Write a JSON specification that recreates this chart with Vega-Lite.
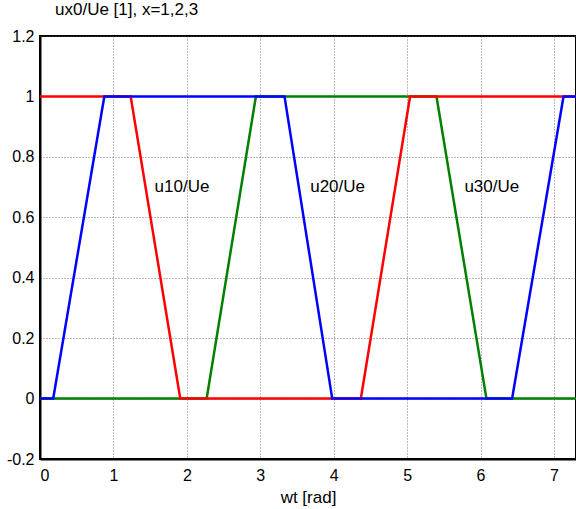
{
  "$schema": "https://vega.github.io/schema/vega-lite/v6.json",
  "autosize": "none",
  "width": 536,
  "height": 423,
  "padding": {"left": 40, "top": 36, "right": 0, "bottom": 50},
  "background": "white",
  "config": {
    "font": "Liberation Sans",
    "view": {"stroke": "black", "strokeWidth": 2},
    "axis": {
      "labelFont": "Liberation Sans",
      "titleFont": "Liberation Sans",
      "labelFontSize": 16,
      "titleFontSize": 17,
      "titleFontWeight": "normal",
      "labelColor": "black",
      "titleColor": "black",
      "domainColor": "black",
      "domainWidth": 2,
      "ticks": false,
      "gridColor": "#555",
      "gridDash": [1, 2],
      "gridWidth": 1,
      "gridOpacity": 0.8
    }
  },
  "title": {
    "text": "ux0/Ue [1], x=1,2,3",
    "anchor": "start",
    "frame": "group",
    "font": "Liberation Sans",
    "fontSize": 17,
    "fontWeight": "normal",
    "color": "black",
    "dx": 15,
    "offset": 9
  },
  "datasets": {
    "curves": [
      {"s": "u30", "x": 0, "y": 0},
      {"s": "u30", "x": 2.27, "y": 0},
      {"s": "u30", "x": 2.94, "y": 1},
      {"s": "u30", "x": 5.40, "y": 1},
      {"s": "u30", "x": 6.08, "y": 0},
      {"s": "u30", "x": 7.3, "y": 0},
      {"s": "u10", "x": 0, "y": 1},
      {"s": "u10", "x": 1.235, "y": 1},
      {"s": "u10", "x": 1.91, "y": 0},
      {"s": "u10", "x": 4.37, "y": 0},
      {"s": "u10", "x": 5.04, "y": 1},
      {"s": "u10", "x": 7.3, "y": 1},
      {"s": "u20", "x": 0, "y": 0},
      {"s": "u20", "x": 0.18, "y": 0},
      {"s": "u20", "x": 0.876, "y": 1},
      {"s": "u20", "x": 3.33, "y": 1},
      {"s": "u20", "x": 3.98, "y": 0},
      {"s": "u20", "x": 6.43, "y": 0},
      {"s": "u20", "x": 7.13, "y": 1},
      {"s": "u20", "x": 7.3, "y": 1}
    ],
    "labels": [
      {"x": 1.56, "y": 0.7, "t": "u10/Ue"},
      {"x": 3.68, "y": 0.7, "t": "u20/Ue"},
      {"x": 5.78, "y": 0.7, "t": "u30/Ue"}
    ]
  },
  "layer": [
    {
      "data": {"name": "curves"},
      "mark": {"type": "line", "strokeWidth": 2.5, "clip": true},
      "encoding": {
        "x": {
          "field": "x", "type": "quantitative",
          "scale": {"domain": [0, 7.3], "nice": false, "zero": false},
          "axis": {"title": "wt [rad]", "values": [0,1,2,3,4,5,6,7], "format": "d", "labelPadding": 8, "titlePadding": 6, "grid": true}
        },
        "y": {
          "field": "y", "type": "quantitative",
          "scale": {"domain": [-0.2, 1.2], "nice": false},
          "axis": {"title": null, "values": [-0.2, 0, 0.2, 0.4, 0.6, 0.8, 1, 1.2], "labelExpr": "replace(format(datum.value, '.1~f'), '\u2212', '-')", "labelPadding": 6, "grid": true}
        },
        "color": {
          "field": "s", "type": "nominal",
          "scale": {"domain": ["u10", "u20", "u30"], "range": ["#ff0000", "#0000ff", "#008000"]},
          "legend": null
        }
      }
    },
    {
      "data": {"name": "labels"},
      "mark": {"type": "text", "align": "left", "baseline": "middle", "fontSize": 17, "font": "Liberation Sans", "color": "black"},
      "encoding": {
        "x": {"field": "x", "type": "quantitative"},
        "y": {"field": "y", "type": "quantitative"},
        "text": {"field": "t"}
      }
    }
  ]
}
